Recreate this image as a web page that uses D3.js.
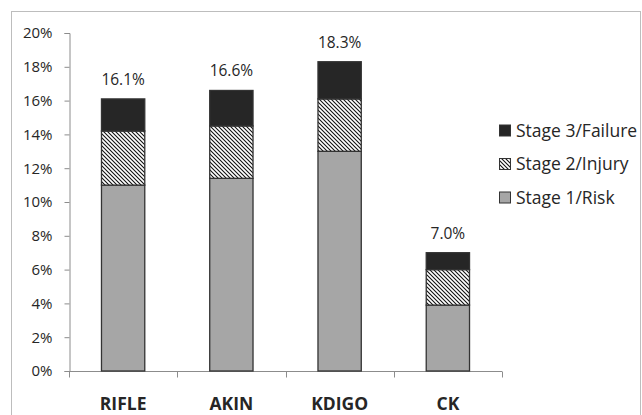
<!DOCTYPE html>
<html lang="en">
<head>
<meta charset="UTF-8">
<title>AKI staging</title>
<style>
  body { margin: 0; overflow: hidden; background: #fff; }
  svg  { display: block; }
  text { font-family: "Open Sans", "Noto Sans", sans-serif; fill: #262626; }
  .tick-label { font-size: 15px; }
  .cat-label  { font-size: 17.5px; font-weight: bold; }
  .val-label  { font-size: 15.5px; }
  .leg-label  { font-size: 17.5px; }
</style>
</head>
<body>
<svg id="chart" width="642" height="415"></svg>

<script src="https://d3js.org/d3.v7.min.js"></script>
<script>
/* ---------------- Data ---------------- */
const categories = ['RIFLE', 'AKIN', 'KDIGO', 'CK'];
const stage1 = [11.0, 11.4, 13.0, 3.9];   // Stage 1/Risk
const stage2 = [3.2, 3.1, 3.1, 2.1];      // Stage 2/Injury
const stage3 = [1.9, 2.1, 2.2, 1.0];      // Stage 3/Failure
const totals = [16.1, 16.6, 18.3, 7.0];
const seriesNames = ['Stage 1/Risk', 'Stage 2/Injury', 'Stage 3/Failure'];
const yTicks = [0, 2, 4, 6, 8, 10, 12, 14, 16, 18, 20];

/* ---------------- Setup ---------------- */
const svg = d3.select('#chart');

// hatch for stage 2
const defs = svg.append('defs');
defs.append('pattern')
    .attr('id', 'hatch')
    .attr('patternUnits', 'userSpaceOnUse')
    .attr('width', 4).attr('height', 4)
  .call(p => {
    p.append('rect').attr('width', 4).attr('height', 4).attr('fill', '#fff');
    p.append('path').attr('d', 'M-1,-1 L5,5 M-1,3 L1,5 M3,-1 L5,1')
      .attr('stroke', '#111').attr('stroke-width', 1.1);
  });

const fills = ['#a6a6a6', 'url(#hatch)', '#262626'];

// outer chart frame
svg.append('rect')
  .attr('x', 11.5).attr('y', 11.5).attr('width', 629).attr('height', 420)
  .attr('fill', 'none').attr('stroke', '#bdbdbd').attr('stroke-width', 1);

const plot = { left: 69, right: 502, top: 33, bottom: 371 };

const x = d3.scaleBand()
  .domain(categories)
  .range([plot.left, plot.right])
  .paddingInner(0.6).paddingOuter(0.3);

const y = d3.scaleLinear().domain([0, 20]).range([plot.bottom, plot.top]);

/* ---------------- Axes ---------------- */
const yAxis = svg.append('g')
  .attr('transform', `translate(${plot.left + 0.5},0)`)
  .call(d3.axisLeft(y).tickValues(yTicks).tickSize(5).tickFormat(d => d + '%'));
yAxis.select('.domain').attr('stroke', '#8c8c8c');
yAxis.selectAll('.tick line').attr('stroke', '#8c8c8c');
yAxis.selectAll('.tick text').attr('class', 'tick-label').attr('x', -17).attr('fill', '#262626');

// x axis with ticks at band boundaries
const xAxisG = svg.append('g').attr('transform', `translate(0,${plot.bottom + 0.5})`);
xAxisG.append('line')
  .attr('x1', plot.left).attr('x2', plot.right)
  .attr('stroke', '#8c8c8c');
const bounds = categories.map((c, i) => plot.left + i * (plot.right - plot.left) / categories.length)
  .concat([plot.right]);
xAxisG.selectAll('.xt').data(bounds).enter().append('line')
  .attr('x1', d => Math.round(d) + 0.5).attr('x2', d => Math.round(d) + 0.5)
  .attr('y1', 0).attr('y2', 6).attr('stroke', '#8c8c8c');

svg.selectAll('.cat-label').data(categories).enter().append('text')
  .attr('class', 'cat-label')
  .attr('x', d => x(d) + x.bandwidth() / 2)
  .attr('y', 410)
  .attr('text-anchor', 'middle')
  .text(d => d);

/* ---------------- Bars ---------------- */
const rows = categories.map((c, i) => ({ cat: c, s0: stage1[i], s1: stage2[i], s2: stage3[i] }));
const stacked = d3.stack().keys(['s0', 's1', 's2'])(rows);

svg.append('g').selectAll('g')
  .data(stacked)
  .enter().append('g')
    .attr('fill', (d, i) => fills[i])
  .selectAll('rect')
  .data(d => d)
  .enter().append('rect')
    .attr('x', d => x(d.data.cat))
    .attr('y', d => y(d[1]))
    .attr('width', x.bandwidth())
    .attr('height', d => y(d[0]) - y(d[1]))
    .attr('stroke', '#333')
    .attr('stroke-width', 1.3);

// totals above bars
svg.selectAll('.val-label').data(categories).enter().append('text')
  .attr('class', 'val-label')
  .attr('x', d => x(d) + x.bandwidth() / 2)
  .attr('y', (d, i) => y(totals[i]) - 14)
  .attr('text-anchor', 'middle')
  .text((d, i) => totals[i].toFixed(1) + '%');

/* ---------------- Legend ---------------- */
const legend = svg.append('g').attr('transform', 'translate(499,0)');
const legOrder = [2, 1, 0];
legOrder.forEach((si, k) => {
  const cy = 130.5 + k * 33.5;
  legend.append('rect')
    .attr('x', 0.5).attr('y', cy - 5.5).attr('width', 11).attr('height', 11)
    .attr('fill', fills[si]).attr('stroke', '#333').attr('stroke-width', 1);
  legend.append('text')
    .attr('class', 'leg-label')
    .attr('x', 17).attr('y', cy).attr('dy', '0.35em')
    .text(seriesNames[si]);
});
</script>
</body>
</html>
